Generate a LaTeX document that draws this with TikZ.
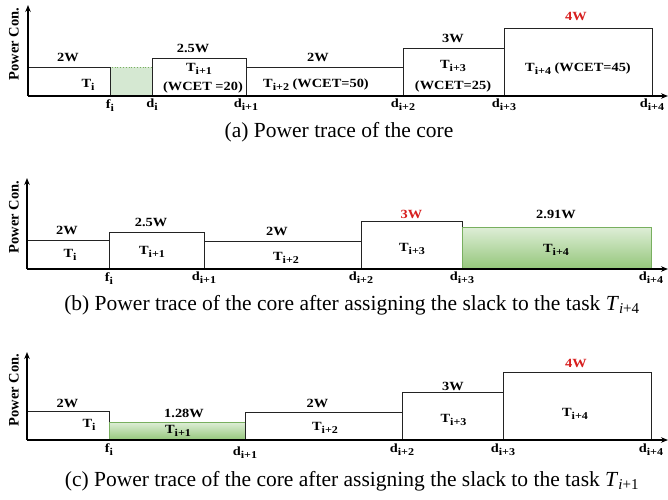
\documentclass[tikz,border=0pt]{standalone}
\usepackage{fontspec}
\setmainfont{Liberation Serif}
\newfontfamily\figfont[FakeStretch=1.15]{Liberation Serif}
\usetikzlibrary{arrows.meta}
\definecolor{ptGreen}{RGB}{120,175,95}
\definecolor{ptGreenTop}{RGB}{222,238,215}
\definecolor{ptGreenBot}{RGB}{148,198,122}
\definecolor{ptSlack}{RGB}{213,232,210}
\definecolor{ptRed}{RGB}{215,30,30}
\definecolor{ptGray}{RGB}{35,35,35}
% lowered index for the bold chart labels
\newcommand{\idx}[1]{\raisebox{-3pt}{\fontsize{10.5}{11}\selectfont #1}}

\begin{document}
\begin{tikzpicture}[x=1pt,y=1pt,
  axis/.style={line width=1.3pt,-{Stealth[length=7pt,width=5.5pt]}},
  task/.style={draw=ptGray,line width=0.8pt},
  slack/.style={draw=ptGreen,dotted,line width=0.8pt,fill=ptSlack},
  busy/.style={draw=ptGreen,line width=0.8pt,top color=ptGreenTop,bottom color=ptGreenBot},
  lbl/.style={font=\figfont\fontsize{12.5}{14}\selectfont\bfseries,inner sep=0pt},
  ylbl/.style={font=\fontsize{14.5}{16}\selectfont\bfseries,rotate=90,inner sep=0pt},
  subcap/.style={font=\fontsize{21.5}{24}\selectfont,inner sep=0pt}]
  \useasboundingbox (0,0) rectangle (668,499);

  % (a) original trace, slack left after T_i
  \begin{scope}[yshift=403pt]
    \coordinate (a-o) at (28,0);
    \coordinate (a-y) at (28,91);
    \coordinate (a-x) at (668,0);
    \draw[slack] (110,0) rectangle (152,29);
    \draw[task] (28,0) rectangle (110,29);
    \draw[task] (152,0) rectangle (246,38);
    \draw[task] (246,0) rectangle (403,29);
    \draw[task] (403,0) rectangle (504,48);
    \draw[task] (504,0) rectangle (652,68);
    \draw[axis] (a-o) -- (a-y);
    \draw[axis] (a-o) -- (a-x);
    \node[ylbl] (a-ylab) at (14,52) {Power Con.};

    % power levels
    \node[lbl] (a-p0) at (68,39) {2W};
    \node[lbl] (a-p1) at (193,48) {2.5W};
    \node[lbl] (a-p2) at (318,39) {2W};
    \node[lbl] (a-p3) at (453,58) {3W};
    \node[lbl,ptRed] (a-p4) at (576,80) {4W};

    % tasks
    \node[lbl] (a-t0) at (88,11) {T\idx{i}};
    \node[lbl] (a-t1) at (199,27) {T\idx{i+1}};
    \node[lbl] (a-w1) at (203,9) {(WCET =20)};
    \node[lbl] (a-t2) at (316,11) {T\idx{i+2} (WCET=50)};
    \node[lbl] (a-t3) at (453,30) {T\idx{i+3}};
    \node[lbl] (a-w3) at (453,10) {(WCET=25)};
    \node[lbl] (a-t4) at (578,27) {T\idx{i+4} (WCET=45)};

    % time marks
    \foreach \x/\l/\s [count=\k] in {110/f/i,152/d/i,246/d/i+1,403/d/i+2,504/d/i+3,652/d/i+4}
      \node[lbl,below=3pt] (a-d\k) at (\x,0) {\l\idx{\s}};
  \end{scope}
  \node[subcap] (a-cap) at (339,367) {(a) Power trace of the core};

  % (b) slack given to T_{i+4}
  \begin{scope}[yshift=230pt]
    \coordinate (b-o) at (27,0);
    \coordinate (b-y) at (27,91);
    \coordinate (b-x) at (668,0);
    \draw[task] (27,0) rectangle (109,29);
    \draw[task] (109,0) rectangle (204,37);
    \draw[task] (204,0) rectangle (361,28);
    \draw[task] (361,0) rectangle (462,48);
    \draw[busy] (462,0) rectangle (651,42);
    \draw[axis] (b-o) -- (b-y);
    \draw[axis] (b-o) -- (b-x);
    \node[ylbl] (b-ylab) at (14,52) {Power Con.};

    \node[lbl] (b-p0) at (67,39) {2W};
    \node[lbl] (b-p1) at (151,47) {2.5W};
    \node[lbl] (b-p2) at (277,38) {2W};
    \node[lbl,ptRed] (b-p3) at (411.5,55) {3W};
    \node[lbl] (b-p4) at (556,55) {2.91W};

    \node[lbl] (b-t0) at (70,14) {T\idx{i}};
    \node[lbl] (b-t1) at (152,17) {T\idx{i+1}};
    \node[lbl] (b-t2) at (286,11) {T\idx{i+2}};
    \node[lbl] (b-t3) at (412,20) {T\idx{i+3}};
    \node[lbl] (b-t4) at (556,19) {T\idx{i+4}};

    \foreach \x/\l/\s [count=\k] in {109/f/i,204/d/i+1,361/d/i+2,462/d/i+3,651/d/i+4}
      \node[lbl,below=3pt] (b-d\k) at (\x,0) {\l\idx{\s}};
  \end{scope}
  \node[subcap] (b-cap) at (352,194) {(b) Power trace of the core after assigning the slack to the task \textit{T}\textsubscript{\textit{i}+4}};

  % (c) slack given to T_{i+1}
  \begin{scope}[yshift=59pt]
    \coordinate (c-o) at (27,0);
    \coordinate (c-y) at (27,88);
    \coordinate (c-x) at (668,0);
    \draw[task] (27,0) rectangle (109,29);
    \draw[busy] (109,0) rectangle (245,18);
    \draw[task] (245,0) rectangle (402,28);
    \draw[task] (402,0) rectangle (503,48);
    \draw[task] (503,0) rectangle (651,68);
    \draw[axis] (c-o) -- (c-y);
    \draw[axis] (c-o) -- (c-x);
    \node[ylbl] (c-ylab) at (14,50) {Power Con.};

    \node[lbl] (c-p0) at (67.5,37) {2W};
    \node[lbl] (c-p1) at (184,27) {1.28W};
    \node[lbl] (c-p2) at (317.5,37) {2W};
    \node[lbl] (c-p3) at (453,54) {3W};
    \node[lbl,ptRed] (c-p4) at (576,77) {4W};

    \node[lbl] (c-t0) at (89,15) {T\idx{i}};
    \node[lbl] (c-t1) at (178,9) {T\idx{i+1}};
    \node[lbl] (c-t2) at (325,12) {T\idx{i+2}};
    \node[lbl] (c-t3) at (453.5,20) {T\idx{i+3}};
    \node[lbl] (c-t4) at (575,26) {T\idx{i+4}};

    \foreach \x/\l/\s/\dy [count=\k] in {109/f/i/0,245/d/i+1/-4,402/d/i+2/-1,503/d/i+3/-1,651/d/i+4/-1}
      \node[lbl,below=3pt,yshift=\dy] (c-d\k) at (\x,0) {\l\idx{\s}};
  \end{scope}
  \node[subcap] (c-cap) at (352,18) {(c) Power trace of the core after assigning the slack to the task \textit{T}\textsubscript{\textit{i}+1}};
\end{tikzpicture}
\end{document}
